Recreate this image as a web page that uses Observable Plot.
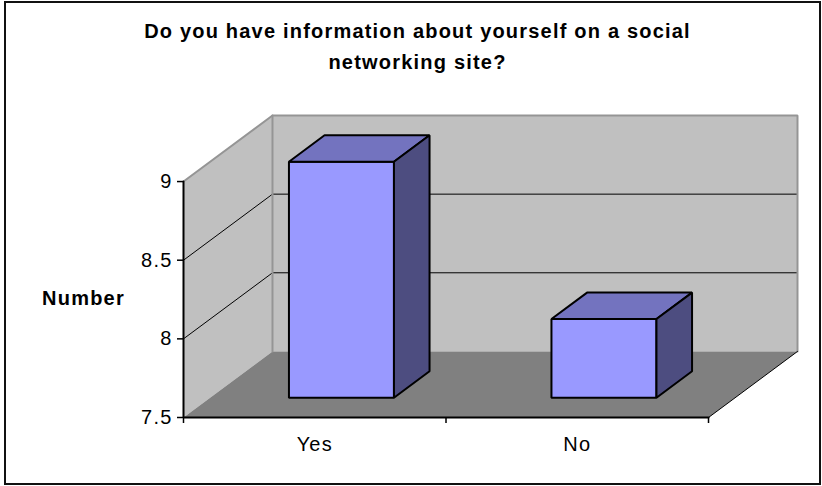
<!DOCTYPE html>
<html><head><meta charset="utf-8">
<script src="https://cdn.jsdelivr.net/npm/d3@7"></script>
<script src="https://cdn.jsdelivr.net/npm/@observablehq/plot@0.6"></script>
<style>
body{margin:0;background:#fff;}
#wrap{position:relative;width:822px;height:486px;overflow:hidden;}
#border{position:absolute;left:4px;top:1px;width:817px;height:484px;border:2px solid #111;box-sizing:border-box;pointer-events:none;}
</style></head><body><div id="wrap"><div id="chart"></div><div id="border"></div></div>
<script>
// ---- data ----
const titleLines = ["Do you have information about yourself on a social", "networking site?"];
const categories = ["Yes", "No"];
const values = [9, 8];
const yTicks = [7.5, 8, 8.5, 9];
const yLabel = "Number";

// ---- 3-D style parameters (data units) ----
const yMin = yTicks[0], yMax = yTicks[yTicks.length - 1];
const nCat = categories.length;
const DX = 0.339, DY = 0.42;          // depth offset of the back wall
const barGap = 0.3, barD0 = 0.3, barD1 = 0.7;

const P = (cx, v, d) => ({x: cx + d * DX, y: v + d * DY});
const poly = (id, pts) => pts.map(p => ({id, ...P(...p)}));

const backWall = poly("back", [[0, yMin, 1], [nCat, yMin, 1], [nCat, yMax, 1], [0, yMax, 1]]);
const sideWall = poly("side", [[0, yMin, 0], [0, yMax, 0], [0, yMax, 1], [0, yMin, 1]]);
const floor = poly("floor", [[0, yMin, 0], [nCat, yMin, 0], [nCat, yMin, 1], [0, yMin, 1]]);
const wallEdges = [
  ...poly("e1", [[0, yMax, 0], [0, yMax, 1], [nCat, yMax, 1], [nCat, yMin, 1]]),
  ...poly("e2", [[0, yMin, 1], [0, yMax, 1]])
];
const floorEdge = poly("fe", [[nCat, yMin, 0], [nCat, yMin, 1]]);
const grid = yTicks.filter(v => v > yMin && v < yMax)
  .flatMap((v, k) => poly("g" + k, [[0, v, 0], [0, v, 1], [nCat, v, 1]]));

const fronts = [], tops = [], sides = [];
values.forEach((v, i) => {
  const x0 = i + barGap, x1 = i + 1 - barGap;
  fronts.push(...poly("f" + i, [[x0, yMin, barD0], [x1, yMin, barD0], [x1, v, barD0], [x0, v, barD0]]));
  tops.push(...poly("t" + i, [[x0, v, barD0], [x1, v, barD0], [x1, v, barD1], [x0, v, barD1]]));
  sides.push(...poly("s" + i, [[x1, yMin, barD0], [x1, yMin, barD1], [x1, v, barD1], [x1, v, barD0]]));
});
const axisLines = [
  ...poly("ay", [[0, yMax, 0], [0, yMin, 0], [nCat, yMin, 0]])
];

const face = (data, fill, extra = {}) => Plot.line(data, {x: "x", y: "y", z: "id", curve: "linear-closed", fill, stroke: "none", ...extra});

const chart = Plot.plot({
  width: 822, height: 486,
  marginLeft: 183, marginRight: 25, marginTop: 115, marginBottom: 69,
  x: {domain: [0, nCat + DX], label: null},
  y: {domain: [yMin, yMax + DY], label: null},
  style: {fontFamily: "'Liberation Sans', Arial, sans-serif", fontSize: "20px", color: "#000", background: "transparent", letterSpacing: "1.2px"},
  marks: [
    face(backWall, "#c0c0c0"),
    face(sideWall, "#c0c0c0"),
    face(floor, "#808080"),
    Plot.line(grid, {x: "x", y: "y", z: "id", stroke: "#000", strokeWidth: 1}),
    Plot.line(wallEdges, {x: "x", y: "y", z: "id", stroke: "#959595", strokeWidth: 2, strokeLinejoin: "miter"}),
    Plot.line(floorEdge, {x: "x", y: "y", z: "id", stroke: "#000", strokeWidth: 1}),
    face(fronts, "#9999ff", {stroke: "#000", strokeWidth: 2, strokeLinejoin: "miter"}),
    face(tops, "#7373bf", {stroke: "#000", strokeWidth: 2, strokeLinejoin: "miter"}),
    face(sides, "#4d4d80", {stroke: "#000", strokeWidth: 2, strokeLinejoin: "miter"}),
    Plot.line(axisLines, {x: "x", y: "y", z: "id", stroke: "#000", strokeWidth: 2, strokeLinejoin: "miter"}),
    Plot.axisY({ticks: yTicks, anchor: "left", tickSize: 6, tickPadding: 5, fontSize: 20, strokeWidth: 1.5,
      tickFormat: d => String(d)}),
    Plot.axisX({ticks: d3.range(nCat + 1), tickSize: 6, tickFormat: () => "", strokeWidth: 1.5}),
    Plot.axisX({ticks: categories.map((c, i) => i + 0.5), tickSize: 0, tickPadding: 19, fontSize: 20,
      tickFormat: d => categories[Math.floor(d)]}),
    Plot.text([yLabel], {frameAnchor: "left", textAnchor: "middle", dx: -100, dy: 32, fontWeight: "bold", fontSize: 20}),
    Plot.text([titleLines.join("\n")], {frameAnchor: "top", textAnchor: "middle", lineAnchor: "top", lineHeight: 1.55,
      dx: -73, dy: -100, fontWeight: "bold", fontSize: 20})
  ]
});
document.getElementById("chart").appendChild(chart);
</script></body></html>
